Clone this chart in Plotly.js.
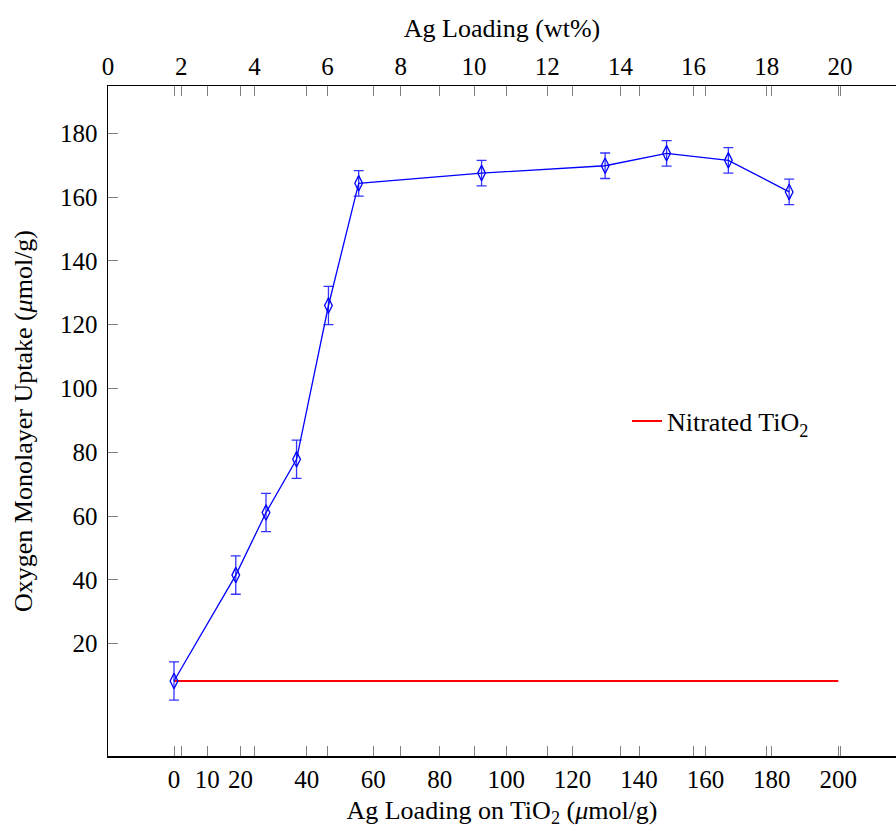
<!DOCTYPE html>
<html>
<head>
<meta charset="utf-8">
<script src="https://cdn.plot.ly/plotly-3.0.1.min.js"></script>
<style>html,body{margin:0;padding:0;background:#fff;overflow:hidden}</style>
</head>
<body>
<div id="chart" style="width:896px;height:832px"></div>
<script>
// Ag loading on TiO2 (umol/g)
const agLoading = [0, 18.6, 27.7, 36.9, 46.5, 55.6, 92.6, 129.8, 148.3, 166.9, 185.2];
// Oxygen monolayer uptake (umol/g)
const uptake = [8.3, 41.5, 61.1, 77.8, 126.0, 164.3, 167.5, 169.8, 173.7, 171.5, 161.6];
const uptakeErr = [6, 6, 6, 6, 6, 4, 4, 4, 4, 4, 4];
// Nitrated TiO2 reference line
const nitratedX = [0, 200];
const nitratedY = [8.3, 8.3];
// tick labels
const bottomTicks = [0, 10, 20, 40, 60, 80, 100, 120, 140, 160, 180, 200];
const topTicks = [0, 2, 4, 6, 8, 10, 12, 14, 16, 18, 20];
const yTicks = [20, 40, 60, 80, 100, 120, 140, 160, 180];

const tickStyle = {ticks: 'inside', ticklen: 10, tickwidth: 1, tickcolor: '#808080',
  showgrid: false, zeroline: false, tickfont: {size: 25}};

const traces = [
  {
    x: nitratedX, y: nitratedY, mode: 'lines', name: 'Nitrated TiO<sub>2</sub>',
    line: {color: '#ff0000', width: 2}, showlegend: true
  },
  {
    x: agLoading, y: uptake, mode: 'lines+markers', showlegend: false,
    line: {color: '#0000ff', width: 1.3},
    marker: {symbol: 'diamond-tall-open', size: 11, color: '#0000ff', line: {color: '#0000ff', width: 1.3}},
    error_y: {type: 'data', array: uptakeErr, visible: true, color: '#3333ff', thickness: 1.3, width: 5}
  },
  {
    // empty trace so the wt% axis on top is drawn
    x: [], y: [], xaxis: 'x2', yaxis: 'y', mode: 'markers', showlegend: false, hoverinfo: 'skip'
  }
];

const layout = {
  width: 896, height: 832,
  margin: {l: 108, r: 0, t: 86, b: 76},
  paper_bgcolor: '#fff', plot_bgcolor: '#fff',
  font: {family: 'Liberation Serif, serif', size: 25, color: '#000'},
  showlegend: true,
  legend: {x: 0.6586, xanchor: 'left', y: 0.5, yanchor: 'middle', bgcolor: 'rgba(0,0,0,0)',
    font: {size: 26}},
  xaxis: Object.assign({}, tickStyle, {
    range: [-19.87, 217.37], tickvals: bottomTicks, ticktext: bottomTicks.map(String),
    showline: true, linecolor: '#000', linewidth: 1.5, mirror: 'ticks',
    title: {text: 'Ag Loading on TiO<sub>2</sub> (<i>μ</i>mol/g)', standoff: 9, font: {size: 26}}
  }),
  xaxis2: Object.assign({}, tickStyle, {
    overlaying: 'x', side: 'top', anchor: 'y',
    range: [0, 21.53], tickvals: topTicks, ticktext: topTicks.map(String),
    showline: true, linecolor: '#000', linewidth: 1.5, mirror: 'ticks',
    title: {text: 'Ag Loading (wt%)', standoff: 7, font: {size: 26}}
  }),
  yaxis: Object.assign({}, tickStyle, {
    range: [-15.2, 194.8], tickvals: yTicks, ticktext: yTicks.map(String),
    showline: true, linecolor: '#000', linewidth: 1.5, ticklabelstandoff: 4,
    title: {text: 'Oxygen Monolayer Uptake (<i>μ</i>mol/g)', standoff: 20, font: {size: 26}}
  }),
  yaxis2: Object.assign({}, tickStyle, {
    overlaying: 'y', side: 'right', anchor: 'x',
    range: [-15.2, 194.8], tickvals: yTicks, showticklabels: false, showline: false
  })
};

Plotly.newPlot('chart', traces, layout, {displayModeBar: false, staticPlot: true});
</script>
</body>
</html>
